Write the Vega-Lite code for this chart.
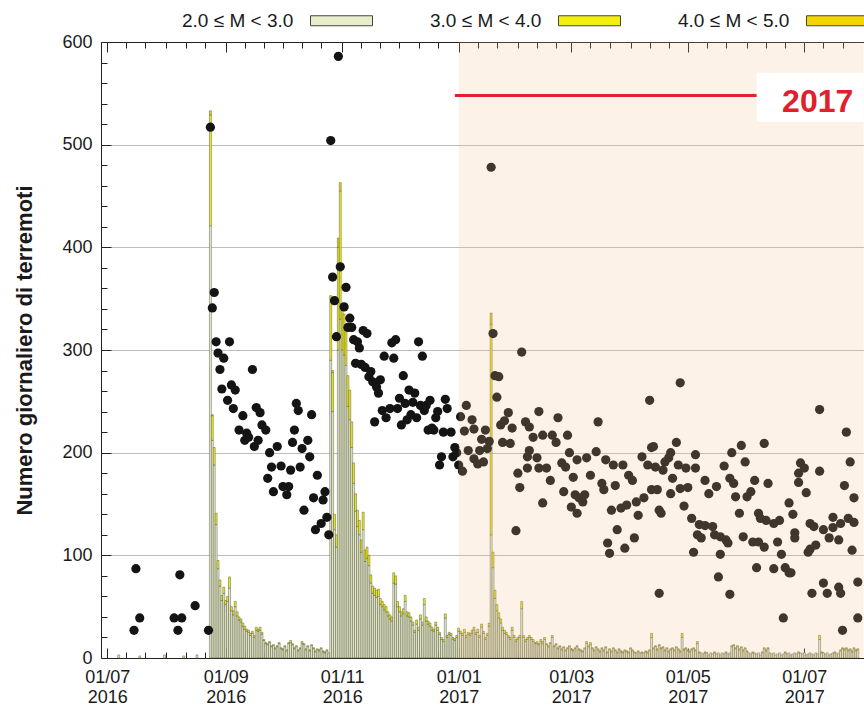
{
"$schema":"https://vega.github.io/schema/vega-lite/v6.json",
"width":763,"height":616,
"autosize":{"type":"none"},
"padding":{"left":101,"top":42,"right":0,"bottom":56},
"background":"white",
"config":{"font":"Liberation Sans","view":{"stroke":null},"axis":{"labelFont":"Liberation Sans","titleFont":"Liberation Sans"},"legend":{"labelFont":"Liberation Sans"}},
"datasets":{
"bars":[
{"d":"2016-07-07","a":3},{"d":"2016-07-18","a":2},{"d":"2016-07-31","a":3},{"d":"2016-08-10","a":2},{"d":"2016-08-17","a":3},
{"d":"2016-08-24","a":421,"b":108,"c":4},{"d":"2016-08-25","a":212,"b":24,"c":1},{"d":"2016-08-26","a":188,"b":17},{"d":"2016-08-27","a":130,"b":11},{"d":"2016-08-28","a":87,"b":8},{"d":"2016-08-29","a":70,"b":6},{"d":"2016-08-30","a":56,"b":5},{"d":"2016-08-31","a":63,"b":6},
{"d":"2016-09-01","a":52,"b":4},{"d":"2016-09-02","a":55,"b":5},{"d":"2016-09-03","a":68,"b":11},{"d":"2016-09-04","a":46,"b":4},{"d":"2016-09-05","a":42,"b":4},{"d":"2016-09-06","a":50,"b":5},{"d":"2016-09-07","a":41,"b":4},{"d":"2016-09-08","a":37,"b":3},{"d":"2016-09-09","a":35,"b":3},{"d":"2016-09-10","a":31,"b":3},{"d":"2016-09-11","a":28,"b":3},{"d":"2016-09-12","a":26,"b":2},{"d":"2016-09-13","a":25,"b":2},{"d":"2016-09-14","a":22,"b":2},{"d":"2016-09-15","a":24,"b":2},{"d":"2016-09-16","a":20,"b":2},{"d":"2016-09-17","a":27,"b":3},{"d":"2016-09-18","a":26,"b":2},{"d":"2016-09-19","a":27,"b":3},{"d":"2016-09-20","a":23,"b":2},{"d":"2016-09-21","a":17,"b":1},{"d":"2016-09-22","a":14,"b":1},{"d":"2016-09-23","a":13,"b":1},{"d":"2016-09-24","a":15,"b":1},{"d":"2016-09-25","a":11,"b":1},{"d":"2016-09-26","a":12,"b":1},{"d":"2016-09-27","a":9,"b":1},{"d":"2016-09-28","a":11,"b":1},{"d":"2016-09-29","a":14,"b":1},{"d":"2016-09-30","a":9,"b":1},
{"d":"2016-10-01","a":8,"b":1},{"d":"2016-10-02","a":11,"b":1},{"d":"2016-10-03","a":7,"b":1},{"d":"2016-10-04","a":14,"b":1},{"d":"2016-10-05","a":15,"b":2},{"d":"2016-10-06","a":13,"b":1},{"d":"2016-10-07","a":9,"b":1},{"d":"2016-10-08","a":11,"b":1},{"d":"2016-10-09","a":7,"b":1},{"d":"2016-10-10","a":9,"b":1},{"d":"2016-10-11","a":14,"b":2},{"d":"2016-10-12","a":13,"b":1},{"d":"2016-10-13","a":8,"b":1},{"d":"2016-10-14","a":11,"b":1},{"d":"2016-10-15","a":7,"b":1},{"d":"2016-10-16","a":12,"b":1},{"d":"2016-10-17","a":9,"b":1},{"d":"2016-10-18","a":6,"b":1},{"d":"2016-10-19","a":8,"b":1},{"d":"2016-10-20","a":7,"b":1},{"d":"2016-10-21","a":9,"b":1},{"d":"2016-10-22","a":6,"b":1},{"d":"2016-10-23","a":5,"b":1},{"d":"2016-10-24","a":7,"b":1},{"d":"2016-10-25","a":5},
{"d":"2016-10-26","a":290,"b":60,"c":3},{"d":"2016-10-27","a":240,"b":38,"c":2},{"d":"2016-10-28","a":125,"b":15},{"d":"2016-10-29","a":108,"b":12},{"d":"2016-10-30","a":300,"b":100,"c":9},{"d":"2016-10-31","a":330,"b":125,"c":8},
{"d":"2016-11-01","a":300,"b":44,"c":1},{"d":"2016-11-02","a":295,"b":40},{"d":"2016-11-03","a":285,"b":35},{"d":"2016-11-04","a":245,"b":30},{"d":"2016-11-05","a":232,"b":29},{"d":"2016-11-06","a":205,"b":25},{"d":"2016-11-07","a":170,"b":20},{"d":"2016-11-08","a":143,"b":17},{"d":"2016-11-09","a":128,"b":16},{"d":"2016-11-10","a":120,"b":14},{"d":"2016-11-11","a":103,"b":12},{"d":"2016-11-12","a":125,"b":17},{"d":"2016-11-13","a":94,"b":11},{"d":"2016-11-14","a":97,"b":11},{"d":"2016-11-15","a":90,"b":10},{"d":"2016-11-16","a":73,"b":8},{"d":"2016-11-17","a":63,"b":7},{"d":"2016-11-18","a":61,"b":7},{"d":"2016-11-19","a":59,"b":7},{"d":"2016-11-20","a":60,"b":7},{"d":"2016-11-21","a":52,"b":6},{"d":"2016-11-22","a":50,"b":5},{"d":"2016-11-23","a":47,"b":5},{"d":"2016-11-24","a":45,"b":5},{"d":"2016-11-25","a":41,"b":4},{"d":"2016-11-26","a":38,"b":4},{"d":"2016-11-27","a":36,"b":4},{"d":"2016-11-28","a":73,"b":10},{"d":"2016-11-29","a":72,"b":8},{"d":"2016-11-30","a":50,"b":5},
{"d":"2016-12-01","a":45,"b":5},{"d":"2016-12-02","a":41,"b":4},{"d":"2016-12-03","a":43,"b":5},{"d":"2016-12-04","a":55,"b":6},{"d":"2016-12-05","a":41,"b":4},{"d":"2016-12-06","a":40,"b":4},{"d":"2016-12-07","a":36,"b":4},{"d":"2016-12-08","a":32,"b":3},{"d":"2016-12-09","a":25,"b":2},{"d":"2016-12-10","a":33,"b":4},{"d":"2016-12-11","a":27,"b":3},{"d":"2016-12-12","a":38,"b":4},{"d":"2016-12-13","a":32,"b":3},{"d":"2016-12-14","a":52,"b":6},{"d":"2016-12-15","a":36,"b":4},{"d":"2016-12-16","a":33,"b":3},{"d":"2016-12-17","a":31,"b":3},{"d":"2016-12-18","a":27,"b":3},{"d":"2016-12-19","a":26,"b":2},{"d":"2016-12-20","a":32,"b":3},{"d":"2016-12-21","a":27,"b":3},{"d":"2016-12-22","a":23,"b":2},{"d":"2016-12-23","a":18,"b":2},{"d":"2016-12-24","a":16,"b":2},{"d":"2016-12-25","a":39,"b":4},{"d":"2016-12-26","a":20,"b":2},{"d":"2016-12-27","a":23,"b":2},{"d":"2016-12-28","a":22,"b":2},{"d":"2016-12-29","a":18,"b":2},{"d":"2016-12-30","a":17,"b":2},{"d":"2016-12-31","a":20,"b":2},
{"d":"2017-01-01","a":26,"b":3},{"d":"2017-01-02","a":24,"b":2},{"d":"2017-01-03","a":22,"b":2},{"d":"2017-01-04","a":25,"b":3},{"d":"2017-01-05","a":20,"b":2},{"d":"2017-01-06","a":23,"b":2},{"d":"2017-01-07","a":22,"b":2},{"d":"2017-01-08","a":24,"b":3},{"d":"2017-01-09","a":27,"b":3},{"d":"2017-01-10","a":23,"b":2},{"d":"2017-01-11","a":25,"b":3},{"d":"2017-01-12","a":20,"b":2},{"d":"2017-01-13","a":30,"b":3},{"d":"2017-01-14","a":24,"b":2},{"d":"2017-01-15","a":18,"b":2},{"d":"2017-01-16","a":22,"b":2},{"d":"2017-01-17","a":31,"b":3},{"d":"2017-01-18","a":120,"b":205,"c":11},{"d":"2017-01-19","a":88,"b":15},{"d":"2017-01-20","a":58,"b":8},{"d":"2017-01-21","a":46,"b":6},{"d":"2017-01-22","a":39,"b":5},{"d":"2017-01-23","a":34,"b":4},{"d":"2017-01-24","a":27,"b":3},{"d":"2017-01-25","a":24,"b":3},{"d":"2017-01-26","a":23,"b":2},{"d":"2017-01-27","a":20,"b":2},{"d":"2017-01-28","a":18,"b":2},{"d":"2017-01-29","a":27,"b":3},{"d":"2017-01-30","a":20,"b":2},{"d":"2017-01-31","a":16,"b":2},
{"d":"2017-02-01","a":18,"b":2},{"d":"2017-02-02","a":20,"b":2},{"d":"2017-02-03","a":48,"b":7},{"d":"2017-02-04","a":20,"b":2},{"d":"2017-02-05","a":16,"b":2},{"d":"2017-02-06","a":18,"b":2},{"d":"2017-02-07","a":20,"b":2},{"d":"2017-02-08","a":18,"b":2},{"d":"2017-02-09","a":16,"b":2},{"d":"2017-02-10","a":14,"b":1},{"d":"2017-02-11","a":14,"b":2},{"d":"2017-02-12","a":13,"b":1},{"d":"2017-02-13","a":16,"b":2},{"d":"2017-02-14","a":14,"b":2},{"d":"2017-02-15","a":18,"b":2},{"d":"2017-02-16","a":13,"b":1},{"d":"2017-02-17","a":11,"b":1},{"d":"2017-02-18","a":14,"b":1},{"d":"2017-02-19","a":20,"b":2},{"d":"2017-02-20","a":11,"b":1},{"d":"2017-02-21","a":13,"b":1},{"d":"2017-02-22","a":9,"b":1},{"d":"2017-02-23","a":11,"b":1},{"d":"2017-02-24","a":8,"b":1},{"d":"2017-02-25","a":10,"b":1},{"d":"2017-02-26","a":7,"b":1},{"d":"2017-02-27","a":9,"b":1},{"d":"2017-02-28","a":11,"b":1},
{"d":"2017-03-01","a":8,"b":1},{"d":"2017-03-02","a":7,"b":1},{"d":"2017-03-03","a":9,"b":1},{"d":"2017-03-04","a":11,"b":1},{"d":"2017-03-05","a":8,"b":1},{"d":"2017-03-06","a":7,"b":1},{"d":"2017-03-07","a":6,"b":1},{"d":"2017-03-08","a":9,"b":1},{"d":"2017-03-09","a":14,"b":2},{"d":"2017-03-10","a":11,"b":1},{"d":"2017-03-11","a":13,"b":2},{"d":"2017-03-12","a":9,"b":1},{"d":"2017-03-13","a":7,"b":1},{"d":"2017-03-14","a":10,"b":1},{"d":"2017-03-15","a":8,"b":1},{"d":"2017-03-16","a":6,"b":1},{"d":"2017-03-17","a":9,"b":1},{"d":"2017-03-18","a":7,"b":1},{"d":"2017-03-19","a":10,"b":1},{"d":"2017-03-20","a":5,"b":1},{"d":"2017-03-21","a":8,"b":1},{"d":"2017-03-22","a":6,"b":1},{"d":"2017-03-23","a":9,"b":1},{"d":"2017-03-24","a":7,"b":1},{"d":"2017-03-25","a":5,"b":1},{"d":"2017-03-26","a":8,"b":1},{"d":"2017-03-27","a":6,"b":1},{"d":"2017-03-28","a":5,"b":1},{"d":"2017-03-29","a":7,"b":1},{"d":"2017-03-30","a":6,"b":1},{"d":"2017-03-31","a":5,"b":1},
{"d":"2017-04-01","a":9,"b":1},{"d":"2017-04-02","a":7,"b":1},{"d":"2017-04-03","a":5,"b":1},{"d":"2017-04-04","a":5},{"d":"2017-04-05","a":6,"b":1},{"d":"2017-04-06","a":5},{"d":"2017-04-07","a":5,"b":1},{"d":"2017-04-08","a":5},{"d":"2017-04-09","a":6,"b":1},{"d":"2017-04-10","a":5,"b":1},{"d":"2017-04-11","a":7,"b":1},{"d":"2017-04-12","a":20,"b":4},{"d":"2017-04-13","a":9,"b":1},{"d":"2017-04-14","a":11,"b":1},{"d":"2017-04-15","a":8,"b":1},{"d":"2017-04-16","a":12,"b":1},{"d":"2017-04-17","a":9,"b":1},{"d":"2017-04-18","a":10,"b":1},{"d":"2017-04-19","a":7,"b":1},{"d":"2017-04-20","a":9,"b":1},{"d":"2017-04-21","a":6,"b":1},{"d":"2017-04-22","a":8,"b":1},{"d":"2017-04-23","a":9,"b":1},{"d":"2017-04-24","a":7,"b":1},{"d":"2017-04-25","a":10,"b":1},{"d":"2017-04-26","a":8,"b":1},{"d":"2017-04-27","a":6,"b":1},{"d":"2017-04-28","a":20,"b":4},{"d":"2017-04-29","a":8,"b":1},{"d":"2017-04-30","a":9,"b":1},
{"d":"2017-05-01","a":7,"b":1},{"d":"2017-05-02","a":6,"b":1},{"d":"2017-05-03","a":8,"b":1},{"d":"2017-05-04","a":9,"b":1},{"d":"2017-05-05","a":7,"b":1},{"d":"2017-05-06","a":14,"b":2},{"d":"2017-05-07","a":5,"b":1},{"d":"2017-05-08","a":5},{"d":"2017-05-09","a":4},{"d":"2017-05-10","a":5,"b":1},{"d":"2017-05-11","a":5},{"d":"2017-05-12","a":3},{"d":"2017-05-13","a":5},{"d":"2017-05-14","a":4},{"d":"2017-05-15","a":5,"b":1},{"d":"2017-05-16","a":4},{"d":"2017-05-17","a":5},{"d":"2017-05-18","a":3},{"d":"2017-05-19","a":5},{"d":"2017-05-20","a":4},{"d":"2017-05-21","a":5,"b":1},{"d":"2017-05-22","a":4},{"d":"2017-05-23","a":5},{"d":"2017-05-24","a":11,"b":1},{"d":"2017-05-25","a":12,"b":1},{"d":"2017-05-26","a":9,"b":1},{"d":"2017-05-27","a":11,"b":1},{"d":"2017-05-28","a":8,"b":1},{"d":"2017-05-29","a":10,"b":1},{"d":"2017-05-30","a":7,"b":1},{"d":"2017-05-31","a":9,"b":1},
{"d":"2017-06-01","a":6,"b":1},{"d":"2017-06-02","a":5},{"d":"2017-06-03","a":4},{"d":"2017-06-04","a":5,"b":1},{"d":"2017-06-05","a":5},{"d":"2017-06-06","a":4},{"d":"2017-06-07","a":5},{"d":"2017-06-08","a":3},{"d":"2017-06-09","a":5,"b":1},{"d":"2017-06-10","a":9,"b":1},{"d":"2017-06-11","a":7,"b":1},{"d":"2017-06-12","a":9,"b":1},{"d":"2017-06-13","a":5},{"d":"2017-06-14","a":4},{"d":"2017-06-15","a":5},{"d":"2017-06-16","a":3},{"d":"2017-06-17","a":4},{"d":"2017-06-18","a":5},{"d":"2017-06-19","a":3},{"d":"2017-06-20","a":4},{"d":"2017-06-21","a":5,"b":1},{"d":"2017-06-22","a":4},{"d":"2017-06-23","a":5},{"d":"2017-06-24","a":3},{"d":"2017-06-25","a":4},{"d":"2017-06-26","a":5},{"d":"2017-06-27","a":4},{"d":"2017-06-28","a":5,"b":1},{"d":"2017-06-29","a":5},{"d":"2017-06-30","a":4},
{"d":"2017-07-01","a":5},{"d":"2017-07-02","a":3},{"d":"2017-07-03","a":4},{"d":"2017-07-04","a":5},{"d":"2017-07-05","a":4},{"d":"2017-07-06","a":3},{"d":"2017-07-07","a":5},{"d":"2017-07-08","a":4},{"d":"2017-07-09","a":18,"b":4},{"d":"2017-07-10","a":5,"b":1},{"d":"2017-07-11","a":5},{"d":"2017-07-12","a":4},{"d":"2017-07-13","a":5},{"d":"2017-07-14","a":3},{"d":"2017-07-15","a":4},{"d":"2017-07-16","a":5},{"d":"2017-07-17","a":5,"b":1},{"d":"2017-07-18","a":4},{"d":"2017-07-19","a":5},{"d":"2017-07-20","a":7,"b":1},{"d":"2017-07-21","a":9,"b":1},{"d":"2017-07-22","a":8,"b":1},{"d":"2017-07-23","a":9,"b":1},{"d":"2017-07-24","a":7,"b":1},{"d":"2017-07-25","a":8,"b":1},{"d":"2017-07-26","a":6,"b":1},{"d":"2017-07-27","a":9,"b":1},{"d":"2017-07-28","a":7,"b":1},{"d":"2017-07-29","a":8,"b":1}
],
"dots":[
{"d":"2016-07-15","v":27},{"d":"2016-07-16","v":87},{"d":"2016-07-18","v":39},{"d":"2016-08-05","v":39},{"d":"2016-08-07","v":27},{"d":"2016-08-08","v":81},{"d":"2016-08-09","v":39},{"d":"2016-08-16","v":51},{"d":"2016-08-23","v":27},
{"d":"2016-08-24","v":517},{"d":"2016-08-25","v":341},{"d":"2016-08-26","v":356},{"d":"2016-08-27","v":308},{"d":"2016-08-28","v":297},{"d":"2016-08-29","v":281},{"d":"2016-08-30","v":262},{"d":"2016-08-31","v":292},
{"d":"2016-09-02","v":251},{"d":"2016-09-03","v":308},{"d":"2016-09-04","v":266},{"d":"2016-09-05","v":243},{"d":"2016-09-06","v":261},{"d":"2016-09-08","v":222},{"d":"2016-09-10","v":236},{"d":"2016-09-11","v":212},{"d":"2016-09-12","v":219},{"d":"2016-09-13","v":215},{"d":"2016-09-15","v":281},{"d":"2016-09-16","v":206},{"d":"2016-09-17","v":244},{"d":"2016-09-18","v":212},{"d":"2016-09-19","v":239},{"d":"2016-09-20","v":227},{"d":"2016-09-22","v":222},{"d":"2016-09-23","v":175},{"d":"2016-09-24","v":200},{"d":"2016-09-25","v":186},{"d":"2016-09-26","v":162},{"d":"2016-09-28","v":206},{"d":"2016-09-30","v":187},
{"d":"2016-10-01","v":167},{"d":"2016-10-03","v":159},{"d":"2016-10-04","v":167},{"d":"2016-10-05","v":183},{"d":"2016-10-06","v":210},{"d":"2016-10-07","v":222},{"d":"2016-10-08","v":248},{"d":"2016-10-09","v":241},{"d":"2016-10-10","v":186},{"d":"2016-10-11","v":204},{"d":"2016-10-12","v":144},{"d":"2016-10-14","v":212},{"d":"2016-10-15","v":196},{"d":"2016-10-16","v":237},{"d":"2016-10-17","v":156},{"d":"2016-10-18","v":125},{"d":"2016-10-19","v":178},{"d":"2016-10-21","v":131},{"d":"2016-10-22","v":154},{"d":"2016-10-23","v":162},{"d":"2016-10-24","v":137},{"d":"2016-10-25","v":120},
{"d":"2016-10-26","v":504},{"d":"2016-10-27","v":371},{"d":"2016-10-28","v":348},{"d":"2016-10-29","v":313},{"d":"2016-10-30","v":586},{"d":"2016-10-31","v":381},
{"d":"2016-11-02","v":342},{"d":"2016-11-03","v":361},{"d":"2016-11-04","v":322},{"d":"2016-11-05","v":331},{"d":"2016-11-06","v":322},{"d":"2016-11-07","v":310},{"d":"2016-11-08","v":287},{"d":"2016-11-09","v":308},{"d":"2016-11-10","v":302},{"d":"2016-11-11","v":286},{"d":"2016-11-12","v":319},{"d":"2016-11-13","v":283},{"d":"2016-11-14","v":316},{"d":"2016-11-15","v":274},{"d":"2016-11-16","v":279},{"d":"2016-11-17","v":269},{"d":"2016-11-18","v":230},{"d":"2016-11-19","v":264},{"d":"2016-11-20","v":258},{"d":"2016-11-21","v":271},{"d":"2016-11-22","v":241},{"d":"2016-11-23","v":294},{"d":"2016-11-24","v":234},{"d":"2016-11-26","v":243},{"d":"2016-11-27","v":307},{"d":"2016-11-28","v":292},{"d":"2016-11-29","v":310},{"d":"2016-11-30","v":243},
{"d":"2016-12-01","v":253},{"d":"2016-12-02","v":227},{"d":"2016-12-03","v":275},{"d":"2016-12-04","v":248},{"d":"2016-12-05","v":232},{"d":"2016-12-06","v":261},{"d":"2016-12-07","v":237},{"d":"2016-12-08","v":249},{"d":"2016-12-09","v":258},{"d":"2016-12-10","v":234},{"d":"2016-12-11","v":308},{"d":"2016-12-12","v":246},{"d":"2016-12-13","v":294},{"d":"2016-12-14","v":241},{"d":"2016-12-15","v":246},{"d":"2016-12-16","v":222},{"d":"2016-12-17","v":251},{"d":"2016-12-18","v":224},{"d":"2016-12-19","v":222},{"d":"2016-12-20","v":234},{"d":"2016-12-21","v":240},{"d":"2016-12-22","v":188},{"d":"2016-12-23","v":196},{"d":"2016-12-24","v":220},{"d":"2016-12-25","v":252},{"d":"2016-12-26","v":243},{"d":"2016-12-28","v":220},{"d":"2016-12-29","v":196},{"d":"2016-12-30","v":205},{"d":"2016-12-31","v":200},
{"d":"2017-01-01","v":188},{"d":"2017-01-02","v":235},{"d":"2017-01-03","v":182},{"d":"2017-01-04","v":221},{"d":"2017-01-05","v":246},{"d":"2017-01-06","v":202},{"d":"2017-01-08","v":232},{"d":"2017-01-09","v":223},{"d":"2017-01-09","v":194},{"d":"2017-01-11","v":189},{"d":"2017-01-12","v":202},{"d":"2017-01-13","v":213},{"d":"2017-01-14","v":191},{"d":"2017-01-15","v":222},{"d":"2017-01-16","v":204},{"d":"2017-01-17","v":211},{"d":"2017-01-18","v":478},{"d":"2017-01-19","v":316},{"d":"2017-01-20","v":275},{"d":"2017-01-21","v":254},{"d":"2017-01-22","v":274},{"d":"2017-01-23","v":227},{"d":"2017-01-24","v":210},{"d":"2017-01-25","v":231},{"d":"2017-01-27","v":239},{"d":"2017-01-28","v":209},{"d":"2017-01-29","v":224},{"d":"2017-01-31","v":124},
{"d":"2017-02-01","v":180},{"d":"2017-02-02","v":166},{"d":"2017-02-03","v":298},{"d":"2017-02-05","v":230},{"d":"2017-02-06","v":185},{"d":"2017-02-06","v":196},{"d":"2017-02-07","v":225},{"d":"2017-02-07","v":202},{"d":"2017-02-09","v":215},{"d":"2017-02-11","v":195},{"d":"2017-02-12","v":185},{"d":"2017-02-12","v":240},{"d":"2017-02-14","v":217},{"d":"2017-02-14","v":151},{"d":"2017-02-16","v":185},{"d":"2017-02-18","v":173},{"d":"2017-02-19","v":217},{"d":"2017-02-21","v":210},{"d":"2017-02-22","v":234},{"d":"2017-02-24","v":190},{"d":"2017-02-25","v":162},{"d":"2017-02-26","v":186},{"d":"2017-02-27","v":217},{"d":"2017-02-28","v":200},
{"d":"2017-03-01","v":147},{"d":"2017-03-02","v":176},{"d":"2017-03-03","v":159},{"d":"2017-03-04","v":193},{"d":"2017-03-04","v":141},{"d":"2017-03-05","v":156},{"d":"2017-03-07","v":152},{"d":"2017-03-08","v":159},{"d":"2017-03-09","v":195},{"d":"2017-03-11","v":178},{"d":"2017-03-14","v":201},{"d":"2017-03-15","v":230},{"d":"2017-03-17","v":170},{"d":"2017-03-18","v":164},{"d":"2017-03-19","v":193},{"d":"2017-03-20","v":112},{"d":"2017-03-21","v":102},{"d":"2017-03-22","v":144},{"d":"2017-03-23","v":188},{"d":"2017-03-24","v":168},{"d":"2017-03-25","v":125},{"d":"2017-03-27","v":146},{"d":"2017-03-28","v":188},{"d":"2017-03-29","v":107},{"d":"2017-03-30","v":149},{"d":"2017-03-31","v":178},
{"d":"2017-04-02","v":173},{"d":"2017-04-03","v":117},{"d":"2017-04-04","v":152},{"d":"2017-04-05","v":139},{"d":"2017-04-07","v":196},{"d":"2017-04-08","v":156},{"d":"2017-04-10","v":188},{"d":"2017-04-11","v":251},{"d":"2017-04-12","v":205},{"d":"2017-04-12","v":164},{"d":"2017-04-13","v":206},{"d":"2017-04-14","v":186},{"d":"2017-04-15","v":164},{"d":"2017-04-16","v":63},{"d":"2017-04-16","v":144},{"d":"2017-04-17","v":141},{"d":"2017-04-18","v":183},{"d":"2017-04-19","v":191},{"d":"2017-04-21","v":195},{"d":"2017-04-22","v":160},{"d":"2017-04-22","v":200},{"d":"2017-04-23","v":175},{"d":"2017-04-25","v":210},{"d":"2017-04-26","v":188},{"d":"2017-04-27","v":165},{"d":"2017-04-27","v":268},{"d":"2017-04-29","v":148},{"d":"2017-04-30","v":185},
{"d":"2017-05-01","v":166},{"d":"2017-05-03","v":136},{"d":"2017-05-04","v":103},{"d":"2017-05-05","v":185},{"d":"2017-05-05","v":198},{"d":"2017-05-06","v":120},{"d":"2017-05-07","v":130},{"d":"2017-05-08","v":117},{"d":"2017-05-10","v":173},{"d":"2017-05-10","v":129},{"d":"2017-05-12","v":160},{"d":"2017-05-14","v":128},{"d":"2017-05-15","v":120},{"d":"2017-05-16","v":167},{"d":"2017-05-17","v":79},{"d":"2017-05-18","v":101},{"d":"2017-05-18","v":118},{"d":"2017-05-20","v":187},{"d":"2017-05-21","v":115},{"d":"2017-05-22","v":112},{"d":"2017-05-23","v":62},{"d":"2017-05-23","v":175},{"d":"2017-05-24","v":200},{"d":"2017-05-25","v":170},{"d":"2017-05-26","v":157},{"d":"2017-05-28","v":141},{"d":"2017-05-29","v":207},{"d":"2017-05-30","v":118},{"d":"2017-05-31","v":191},
{"d":"2017-06-01","v":157},{"d":"2017-06-03","v":162},{"d":"2017-06-04","v":113},{"d":"2017-06-05","v":173},{"d":"2017-06-06","v":88},{"d":"2017-06-07","v":141},{"d":"2017-06-07","v":113},{"d":"2017-06-08","v":136},{"d":"2017-06-10","v":209},{"d":"2017-06-10","v":108},{"d":"2017-06-11","v":134},{"d":"2017-06-12","v":170},{"d":"2017-06-15","v":131},{"d":"2017-06-15","v":87},{"d":"2017-06-17","v":113},{"d":"2017-06-18","v":134},{"d":"2017-06-19","v":101},{"d":"2017-06-20","v":39},{"d":"2017-06-21","v":88},{"d":"2017-06-23","v":151},{"d":"2017-06-23","v":83},{"d":"2017-06-24","v":83},{"d":"2017-06-25","v":140},{"d":"2017-06-26","v":122},{"d":"2017-06-26","v":117},{"d":"2017-06-28","v":180},{"d":"2017-06-28","v":171},{"d":"2017-06-29","v":190},
{"d":"2017-07-01","v":185},{"d":"2017-07-02","v":161},{"d":"2017-07-03","v":103},{"d":"2017-07-04","v":131},{"d":"2017-07-04","v":106},{"d":"2017-07-05","v":63},{"d":"2017-07-06","v":128},{"d":"2017-07-07","v":110},{"d":"2017-07-09","v":242},{"d":"2017-07-09","v":182},{"d":"2017-07-11","v":125},{"d":"2017-07-11","v":73},{"d":"2017-07-13","v":63},{"d":"2017-07-14","v":117},{"d":"2017-07-16","v":137},{"d":"2017-07-16","v":127},{"d":"2017-07-19","v":115},{"d":"2017-07-19","v":69},{"d":"2017-07-20","v":131},{"d":"2017-07-20","v":63},{"d":"2017-07-21","v":27},{"d":"2017-07-22","v":168},{"d":"2017-07-23","v":220},{"d":"2017-07-24","v":136},{"d":"2017-07-25","v":191},{"d":"2017-07-26","v":105},{"d":"2017-07-27","v":156},{"d":"2017-07-27","v":132},{"d":"2017-07-29","v":74},{"d":"2017-07-29","v":39}
]
},
"layer":[
{
"data":{"name":"bars"},
"transform":[{"fold":["a","b","c"],"as":["cls","n"]},{"filter":"datum.n > 0"}],
"mark":{"type":"bar","width":1.94,"stroke":"#5a5a4a","strokeWidth":0.5},
"encoding":{
"x":{"field":"d","type":"temporal","scale":{"type":"utc","domain":[{"year":2016,"month":6,"date":30,"hours":8,"utc":true},{"year":2017,"month":7,"date":29,"hours":15,"utc":true}],"nice":false},
"axis":{"orient":"bottom","title":null,"grid":false,"values":[{"year":2016,"month":7,"date":1,"utc":true},{"year":2016,"month":9,"date":1,"utc":true},{"year":2016,"month":11,"date":1,"utc":true},{"year":2017,"month":1,"date":1,"utc":true},{"year":2017,"month":3,"date":1,"utc":true},{"year":2017,"month":5,"date":1,"utc":true},{"year":2017,"month":7,"date":1,"utc":true}],
"labelExpr":"[utcFormat(datum.value, '%d/%m'), utcFormat(datum.value, '%Y')]","labelFontSize":18,"labelColor":"#1a1a1a","labelLineHeight":20,"labelFlush":false,"labelOverlap":false,"labelBound":false,"tickSize":-10,"labelPadding":20,"tickColor":"#222","domainColor":"#222","domainWidth":1}},
"y":{"field":"n","type":"quantitative","stack":"zero","scale":{"domain":[0,600],"nice":false},
"axis":{"orient":"left","values":[0,100,200,300,400,500,600],"grid":true,"gridColor":"#bdbdbd","gridWidth":1,"tickSize":-10,"labelPadding":19,"labelFontSize":18,"labelColor":"#1a1a1a","labelBaseline":"middle","tickColor":"#222","domainColor":"#222","title":"Numero giornaliero di terremoti","titleFontSize":22,"titleFontWeight":"bold","titleColor":"#1a1a1a","titlePadding":25}},
"color":{"field":"cls","type":"nominal","scale":{"domain":["a","b","c"],"range":["#e8eecb","#f2ee10","#f3d400"]},
"legend":{"orient":"none","legendX":72,"legendY":-31,"direction":"horizontal","title":null,"symbolType":"M25.6,-1H38V1H25.6Z","symbolSize":100,"symbolStrokeColor":"#444","symbolStrokeWidth":1,"symbolOpacity":1,"labelOffset":-10,"labelFontSize":19,"labelColor":"#1a1a1a","labelLimit":300,"columnPadding":46,"labelExpr":"datum.label == 'a' ? '2.0 ≤ M < 3.0' : datum.label == 'b' ? '3.0 ≤ M < 4.0' : '4.0 ≤ M < 5.0'"}},
"order":{"field":"cls","sort":"ascending"}
}
},
{
"data":{"name":"dots"},
"mark":{"type":"circle","size":85,"color":"#141414","opacity":1},
"encoding":{
"x":{"field":"d","type":"temporal","scale":{"type":"utc","domain":[{"year":2016,"month":6,"date":30,"hours":8,"utc":true},{"year":2017,"month":7,"date":29,"hours":15,"utc":true}],"nice":false},
"axis":{"orient":"bottom","title":null,"grid":false,"labels":false,"domain":false,"tickSize":-6,"tickColor":"#222","values":[{"year":2016,"month":7,"date":11,"utc":true},{"year":2016,"month":7,"date":21,"utc":true},{"year":2016,"month":8,"date":1,"utc":true},{"year":2016,"month":8,"date":11,"utc":true},{"year":2016,"month":8,"date":21,"utc":true},{"year":2016,"month":9,"date":11,"utc":true},{"year":2016,"month":9,"date":21,"utc":true},{"year":2016,"month":10,"date":1,"utc":true},{"year":2016,"month":10,"date":11,"utc":true},{"year":2016,"month":10,"date":21,"utc":true},{"year":2016,"month":11,"date":11,"utc":true},{"year":2016,"month":11,"date":21,"utc":true},{"year":2016,"month":12,"date":1,"utc":true},{"year":2016,"month":12,"date":11,"utc":true},{"year":2016,"month":12,"date":21,"utc":true},{"year":2017,"month":1,"date":11,"utc":true},{"year":2017,"month":1,"date":21,"utc":true},{"year":2017,"month":2,"date":1,"utc":true},{"year":2017,"month":2,"date":11,"utc":true},{"year":2017,"month":2,"date":21,"utc":true},{"year":2017,"month":3,"date":11,"utc":true},{"year":2017,"month":3,"date":21,"utc":true},{"year":2017,"month":4,"date":1,"utc":true},{"year":2017,"month":4,"date":11,"utc":true},{"year":2017,"month":4,"date":21,"utc":true},{"year":2017,"month":5,"date":11,"utc":true},{"year":2017,"month":5,"date":21,"utc":true},{"year":2017,"month":6,"date":1,"utc":true},{"year":2017,"month":6,"date":11,"utc":true},{"year":2017,"month":6,"date":21,"utc":true},{"year":2017,"month":7,"date":11,"utc":true},{"year":2017,"month":7,"date":21,"utc":true}]}},
"y":{"field":"v","type":"quantitative","scale":{"domain":[0,600],"nice":false},
"axis":{"orient":"left","title":null,"grid":false,"labels":false,"domain":false,"tickSize":-6,"tickColor":"#222","values":[20,40,60,80,120,140,160,180,220,240,260,280,320,340,360,380,420,440,460,480,520,540,560,580]}}
}
},
{
"data":{"values":[{"s":"2017-01-01","e":"2017-08-01"}]},
"mark":{"type":"rect","color":"#f5be8c","opacity":0.2,"clip":true},
"encoding":{
"x":{"field":"s","type":"temporal","scale":{"type":"utc","domain":[{"year":2016,"month":6,"date":30,"hours":8,"utc":true},{"year":2017,"month":7,"date":29,"hours":15,"utc":true}],"nice":false},
"axis":{"orient":"top","title":null,"grid":false,"labels":false,"tickSize":-10,"tickColor":"#222","domainColor":"#222","values":[{"year":2016,"month":7,"date":1,"utc":true},{"year":2016,"month":9,"date":1,"utc":true},{"year":2016,"month":11,"date":1,"utc":true},{"year":2017,"month":1,"date":1,"utc":true},{"year":2017,"month":3,"date":1,"utc":true},{"year":2017,"month":5,"date":1,"utc":true},{"year":2017,"month":7,"date":1,"utc":true}]}},
"x2":{"field":"e"}
}
},
{
"data":{"values":[{"s":"2016-12-30","e":"2017-06-08","y":548}]},
"mark":{"type":"rule","color":"#e0202a","strokeWidth":3},
"encoding":{
"x":{"field":"s","type":"temporal","scale":{"type":"utc","domain":[{"year":2016,"month":6,"date":30,"hours":8,"utc":true},{"year":2017,"month":7,"date":29,"hours":15,"utc":true}],"nice":false},
"axis":{"orient":"top","title":null,"grid":false,"labels":false,"domain":false,"tickSize":-6,"tickColor":"#222","values":[{"year":2016,"month":7,"date":11,"utc":true},{"year":2016,"month":7,"date":21,"utc":true},{"year":2016,"month":8,"date":1,"utc":true},{"year":2016,"month":8,"date":11,"utc":true},{"year":2016,"month":8,"date":21,"utc":true},{"year":2016,"month":9,"date":11,"utc":true},{"year":2016,"month":9,"date":21,"utc":true},{"year":2016,"month":10,"date":1,"utc":true},{"year":2016,"month":10,"date":11,"utc":true},{"year":2016,"month":10,"date":21,"utc":true},{"year":2016,"month":11,"date":11,"utc":true},{"year":2016,"month":11,"date":21,"utc":true},{"year":2016,"month":12,"date":1,"utc":true},{"year":2016,"month":12,"date":11,"utc":true},{"year":2016,"month":12,"date":21,"utc":true},{"year":2017,"month":1,"date":11,"utc":true},{"year":2017,"month":1,"date":21,"utc":true},{"year":2017,"month":2,"date":1,"utc":true},{"year":2017,"month":2,"date":11,"utc":true},{"year":2017,"month":2,"date":21,"utc":true},{"year":2017,"month":3,"date":11,"utc":true},{"year":2017,"month":3,"date":21,"utc":true},{"year":2017,"month":4,"date":1,"utc":true},{"year":2017,"month":4,"date":11,"utc":true},{"year":2017,"month":4,"date":21,"utc":true},{"year":2017,"month":5,"date":11,"utc":true},{"year":2017,"month":5,"date":21,"utc":true},{"year":2017,"month":6,"date":1,"utc":true},{"year":2017,"month":6,"date":11,"utc":true},{"year":2017,"month":6,"date":21,"utc":true},{"year":2017,"month":7,"date":11,"utc":true},{"year":2017,"month":7,"date":21,"utc":true}]}},
"x2":{"field":"e"},
"y":{"field":"y","type":"quantitative","scale":{"domain":[0,600],"nice":false},"axis":null}
}
},
{
"data":{"values":[{"s":"2017-06-06","e":"2017-08-01","y1":522,"y2":570}]},
"mark":{"type":"rect","color":"white","clip":true},
"encoding":{
"x":{"field":"s","type":"temporal","scale":{"type":"utc","domain":[{"year":2016,"month":6,"date":30,"hours":8,"utc":true},{"year":2017,"month":7,"date":29,"hours":15,"utc":true}],"nice":false},"axis":null},
"x2":{"field":"e"},
"y":{"field":"y1","type":"quantitative","scale":{"domain":[0,600],"nice":false},"axis":null},
"y2":{"field":"y2"}
}
},
{
"data":{"values":[{"d":"2017-07-08","y":542,"t":"2017"}]},
"mark":{"type":"text","color":"#e0202a","fontSize":32,"fontWeight":"bold","align":"center","baseline":"middle","font":"Liberation Sans"},
"encoding":{
"x":{"field":"d","type":"temporal","scale":{"type":"utc","domain":[{"year":2016,"month":6,"date":30,"hours":8,"utc":true},{"year":2017,"month":7,"date":29,"hours":15,"utc":true}],"nice":false},"axis":null},
"y":{"field":"y","type":"quantitative","scale":{"domain":[0,600],"nice":false},"axis":null},
"text":{"field":"t"}
}
}
],
"resolve":{"axis":{"x":"independent","y":"independent"}}
}
